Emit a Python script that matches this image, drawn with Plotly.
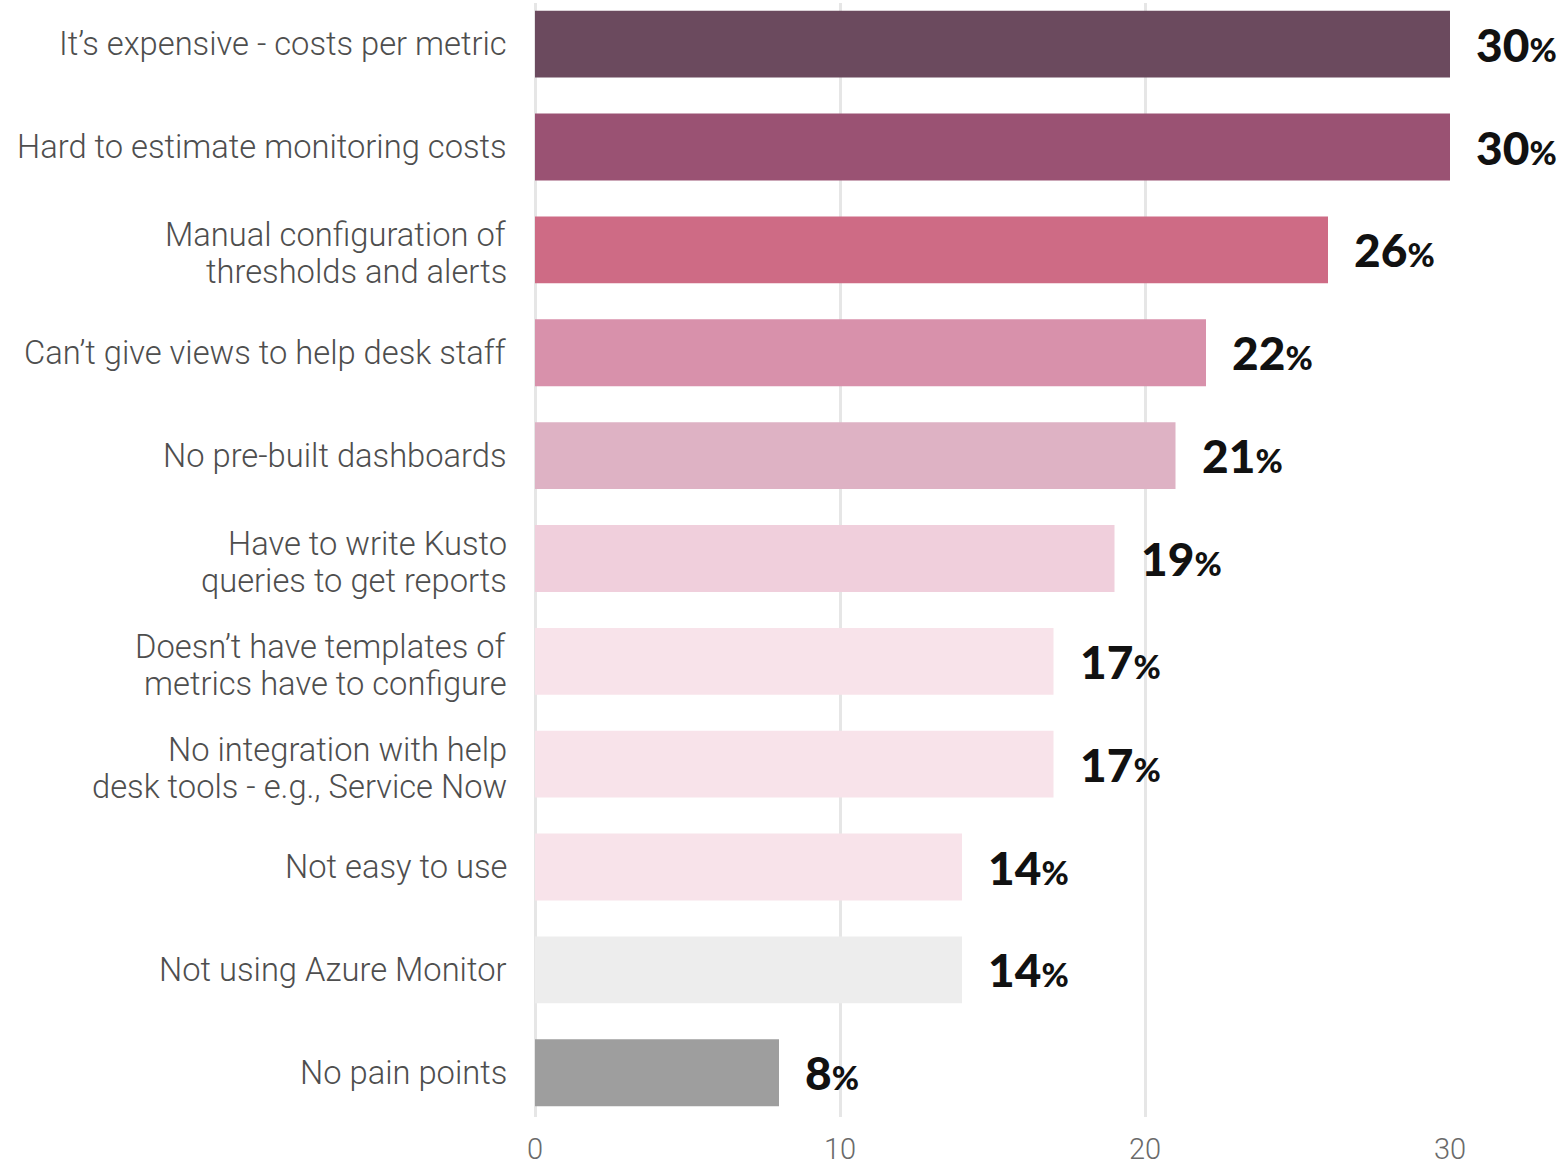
import plotly.graph_objects as go

# Survey responses: pain points with Azure Monitor (% of respondents)
categories = [
    "It’s expensive - costs per metric",
    "Hard to estimate monitoring costs",
    "Manual configuration of<br>thresholds and alerts",
    "Can’t give views to help desk staff",
    "No pre-built dashboards",
    "Have to write Kusto<br>queries to get reports",
    "Doesn’t have templates of<br>metrics have to configure",
    "No integration with help<br>desk tools - e.g., Service Now",
    "Not easy to use",
    "Not using Azure Monitor",
    "No pain points",
]
values = [30, 30, 26, 22, 21, 19, 17, 17, 14, 14, 8]
colors = [
    "#6B4A5E", "#9A5273", "#CE6B85", "#D891AB", "#DEB2C4", "#F0CFDC",
    "#F8E3EA", "#F8E3EA", "#F8E3EA", "#EDEDED", "#9E9E9E",
]
x_ticks = [0, 10, 20, 30]

LINE_GAP = 37  # px between wrapped category label lines

fig = go.Figure(
    go.Bar(
        x=values,
        y=categories,
        orientation="h",
        marker=dict(color=colors, line=dict(width=0)),
        width=0.65,
        hoverinfo="skip",
        cliponaxis=False,
    )
)

for cat, v in zip(categories, values):
    # Value label to the right of each bar: heavy number, smaller percent sign
    fig.add_annotation(
        x=v,
        y=cat,
        xref="x",
        yref="y",
        text=f"{v}<span style='font-size:33px'>%</span>",
        showarrow=False,
        xanchor="left",
        yanchor="middle",
        xshift=24,
        yshift=0,
        font=dict(family="Lato", size=46, color="#111111", weight=900),
    )
    # Category label, one annotation per line for tight line spacing
    lines = cat.split("<br>")
    n = len(lines)
    for i, line in enumerate(lines):
        fig.add_annotation(
            x=0,
            y=cat,
            xref="x",
            yref="y",
            text=line,
            showarrow=False,
            xanchor="right",
            yanchor="middle",
            xshift=-26,
            yshift=((n - 1) / 2 - i) * LINE_GAP - (4 if n > 1 else 0),
            font=dict(family="Roboto", size=32.7, color="#4E4E4E", weight=300),
        )

fig.update_layout(
    width=1568,
    height=1166,
    margin=dict(l=535, r=118, t=3, b=49),
    paper_bgcolor="white",
    plot_bgcolor="white",
    showlegend=False,
    bargap=0.35,
)

fig.update_xaxes(
    range=[0, 30],
    tickvals=x_ticks,
    automargin=False,
    showgrid=True,
    gridcolor="#E6E6E6",
    gridwidth=2.5,
    zeroline=True,
    zerolinecolor="#E6E6E6",
    zerolinewidth=2.5,
    showline=False,
    ticks="",
    ticklabelstandoff=12,
    tickfont=dict(family="Roboto", size=29, color="#6A6A6A", weight=300),
)

fig.update_yaxes(
    type="category",
    categoryorder="array",
    categoryarray=categories,
    range=[10.43, -0.4],
    automargin=False,
    showgrid=False,
    zeroline=False,
    showline=False,
    ticks="",
    showticklabels=False,
)

fig.write_html("out.html")
